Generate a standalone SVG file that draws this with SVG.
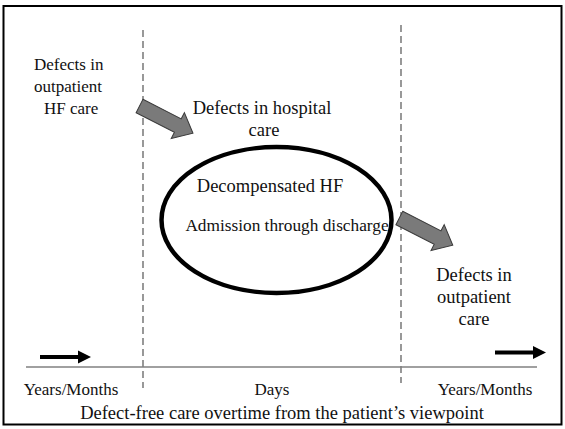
<svg xmlns="http://www.w3.org/2000/svg" width="565" height="429" viewBox="0 0 565 429">
<style>
.t{font-family:"Liberation Serif","Times New Roman",serif;font-size:17px;fill:#111}
.l{font-size:18.5px}
.m{text-anchor:middle}
.dash{stroke:#555;stroke-width:1.2;stroke-dasharray:7,4;fill:none}
.garrow{fill:#7a7a7a;stroke:#3a3a3a;stroke-width:1}
</style>
<defs>
<polygon id="ga" points="0,-7.5 43,-7.5 43,-14.5 60,0 43,14.5 43,7.5 0,7.5"/>
</defs>
<rect x="3.5" y="6" width="558" height="418.5" fill="#fff" stroke="#000" stroke-width="2"/>
<g id="connectors">
<line class="dash" x1="143" y1="30" x2="143" y2="388"/>
<line class="dash" x1="401" y1="25" x2="401" y2="383"/>
<line x1="26" y1="367" x2="537" y2="367" stroke="#808080" stroke-width="1.6"/>
<g id="arrow-left-time"><rect x="40" y="355" width="39" height="4" fill="#000"/><polygon points="78,350.5 91,357 78,363.5" fill="#000"/></g>
<g id="arrow-right-time"><rect x="495" y="350.5" width="39" height="4" fill="#000"/><polygon points="533,346 546,352.5 533,359" fill="#000"/></g>
<use href="#ga" class="garrow" transform="translate(139.5,106) rotate(27)"/>
<use href="#ga" class="garrow" transform="translate(399.3,218) rotate(27)"/>
</g>
<g id="n-outpatient-hf">
<text class="t" x="34" y="70">Defects in</text>
<text class="t" x="34" y="92">outpatient</text>
<text class="t" x="44" y="114">HF care</text>
</g>
<g id="n-hospital">
<text class="t l m" x="262" y="114">Defects in hospital</text>
<text class="t l m" x="264" y="136">care</text>
</g>
<g id="n-decompensated">
<ellipse cx="276.5" cy="220" rx="115" ry="73" fill="none" stroke="#000" stroke-width="4.5"/>
<text class="t l m" x="270" y="192">Decompensated HF</text>
<text class="t m" x="287" y="231" style="font-size:17.3px">Admission through discharge</text>
</g>
<g id="n-outpatient-care">
<text class="t l m" x="474" y="281">Defects in</text>
<text class="t l m" x="474" y="303">outpatient</text>
<text class="t l m" x="474" y="325">care</text>
</g>
<g id="n-timeline">
<text class="t m" x="71" y="395">Years/Months</text>
<text class="t m" x="272" y="395">Days</text>
<text class="t m" x="485" y="395">Years/Months</text>
<text class="t l m" x="282" y="419">Defect-free care overtime from the patient’s viewpoint</text>
</g>
</svg>
